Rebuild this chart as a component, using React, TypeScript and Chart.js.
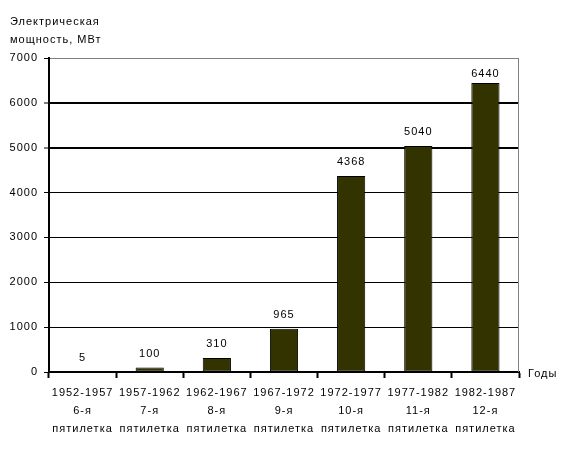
import React, { useEffect, useRef } from "react";
import { Chart, registerables } from "chart.js";

Chart.register(...registerables);

const categories: string[][] = [
  ["1952-1957", "6-я", "пятилетка"],
  ["1957-1962", "7-я", "пятилетка"],
  ["1962-1967", "8-я", "пятилетка"],
  ["1967-1972", "9-я", "пятилетка"],
  ["1972-1977", "10-я", "пятилетка"],
  ["1977-1982", "11-я", "пятилетка"],
  ["1982-1987", "12-я", "пятилетка"],
];
const powerValues: number[] = [5, 100, 310, 965, 4368, 5040, 6440];
const yTitleLines: string[] = ["Электрическая", "мощность, МВт"];
const xTitle = "Годы";
const yMin = 0;
const yMax = 7000;
const yStep = 1000;

const FONT = '"Liberation Sans", Arial, sans-serif';

export default function App() {
  const ref = useRef<HTMLCanvasElement | null>(null);

  useEffect(() => {
    const canvas = ref.current;
    if (!canvas) return;
    Chart.defaults.color = "#000";

    const spacingPlugin = {
      id: "spacing",
      beforeDraw(chart: any) {
        chart.ctx.letterSpacing = "1px";
      },
    };

    const decorPlugin = {
      id: "decor",
      afterDraw(chart: any) {
        const ctx = chart.ctx;
        const a = chart.chartArea;
        ctx.save();
        ctx.letterSpacing = "1px";
        // right frame
        ctx.strokeStyle = "#808080";
        ctx.lineWidth = 1;
        ctx.beginPath();
        ctx.moveTo(Math.round(a.right) - 0.5, a.top);
        ctx.lineTo(Math.round(a.right) - 0.5, a.bottom);
        ctx.stroke();
        // value labels
        ctx.fillStyle = "#000";
        ctx.font = `11px ${FONT}`;
        ctx.textAlign = "center";
        ctx.textBaseline = "middle";
        const meta = chart.getDatasetMeta(0);
        meta.data.forEach((bar: any, i: number) => {
          const y = Math.max(bar.y - 14, a.top + 16);
          ctx.fillText(String(powerValues[i]), bar.x, y);
        });
        // axis titles
        ctx.textAlign = "left";
        ctx.textBaseline = "alphabetic";
        yTitleLines.forEach((line, i) => {
          ctx.fillText(line, 10, 25 + i * 18);
        });
        ctx.fillText(xTitle, a.right + 9, a.bottom + 5);
        ctx.restore();
      },
    };

    const chart = new Chart(canvas, {
      type: "bar",
      data: {
        labels: categories,
        datasets: [
          {
            data: powerValues,
            backgroundColor: "#333300",
            borderColor: "#000000",
            borderWidth: 1,
            borderSkipped: false,
            barPercentage: 0.42,
            categoryPercentage: 1,
          },
        ],
      },
      options: {
        responsive: false,
        animation: false,
        layout: { padding: { top: 58, right: 47, left: 0, bottom: 0 } },
        plugins: {
          legend: { display: false },
          tooltip: { enabled: false },
          title: { display: false },
        },
        scales: {
          x: {
            afterFit: (s: any) => {
              s.height = 84;
            },
            grid: {
              display: true,
              drawOnChartArea: false,
              drawTicks: true,
              offset: true,
              tickLength: 6,
              tickColor: "#000",
              tickWidth: 2,
            },
            border: { display: true, color: "#000", width: 2 },
            ticks: {
              font: { family: FONT, size: 11, lineHeight: "18px" },
              color: "#000",
              padding: 6,
              maxRotation: 0,
              autoSkip: false,
            },
          },
          y: {
            min: yMin,
            max: yMax,
            afterFit: (s: any) => {
              s.width = 49;
            },
            grid: {
              color: (c: any) =>
                c.tick && c.tick.value === yMax ? "#808080" : "#000",
              lineWidth: (c: any) =>
                c.tick && (c.tick.value === 5000 || c.tick.value === 6000)
                  ? 2
                  : 1,
              tickLength: 5,
              tickColor: "#000",
              tickWidth: 1,
            },
            border: { display: true, color: "#000", width: 2 },
            ticks: {
              stepSize: yStep,
              font: { family: FONT, size: 11 },
              color: "#000",
              padding: 6,
              callback: (v: any) => String(v),
            },
          },
        },
      },
      plugins: [spacingPlugin, decorPlugin],
    } as any);

    return () => chart.destroy();
  }, []);

  return (
    <div style={{ position: "fixed", left: 0, top: 0, width: 566, height: 456, background: "#fff" }}>
      <canvas ref={ref} width={566} height={456} style={{ display: "block" }} />
    </div>
  );
}
